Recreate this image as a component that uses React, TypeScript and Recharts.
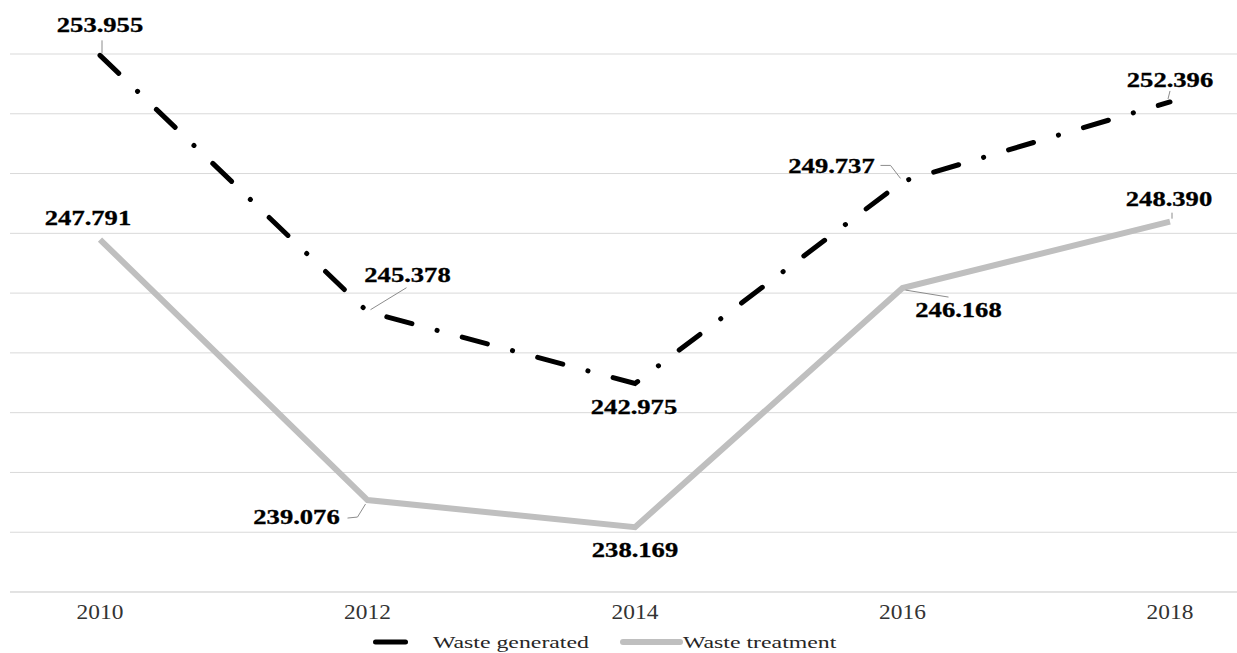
import React from 'react';
import { LineChart, Line, XAxis, YAxis, CartesianGrid, LabelList, Legend } from 'recharts';

const years = ['2010', '2012', '2014', '2016', '2018'];
const wasteGenerated = [253.955, 245.378, 242.975, 249.737, 252.396];
const wasteTreatment = [247.791, 239.076, 238.169, 246.168, 248.39];
const yTicks = [236, 238, 240, 242, 244, 246, 248, 250, 252, 254];

const data = years.map((year, i) => ({
  year,
  generated: wasteGenerated[i],
  treatment: wasteTreatment[i],
}));

// label placement relative to each point (styling)
const genLabelOffsets = [[0, -30], [40, -37], [-1, 24], [-71, -15], [0, -22]];
const treatLabelOffsets = [[-12, -21], [-71, 17], [0, 23], [56, 22], [-1, -22]];
const genLeaders: (number[][] | null)[] = [
  [[2, -15], [2, -2]],
  [[39, -24], [3, -2]],
  null,
  [[-22, -16], [-12, -16], [-2, -3]],
  [[0, -11], [-2, -3]],
];
const treatLeaders: (number[][] | null)[] = [
  null,
  [[-20, 18], [-10, 17], [-2, 4]],
  null,
  [[3, 2], [46, 9]],
  [[2, -9], [2, -3]],
];

const FONT = '"Liberation Serif", "Times New Roman", serif';

const makeLabel = (offsets: number[][], leaders: (number[][] | null)[]) => (props: any) => {
  const { x, y, value, index } = props;
  if (x == null || y == null) return null;
  const [dx, dy] = offsets[index];
  const lead = leaders[index];
  return (
    <g>
      {lead && (
        <polyline
          points={lead.map(([a, b]) => `${x + a},${y + b}`).join(' ')}
          fill="none"
          stroke="#8c8c8c"
          strokeWidth={1}
        />
      )}
      <text
        x={0}
        y={0}
        transform={`translate(${x + dx},${y + dy}) scale(1.33,1)`}
        textAnchor="middle"
        dominantBaseline="central"
        fontFamily={FONT}
        fontWeight="bold"
        fontSize={20}
        fill="#000000"
        stroke="#000000"
        strokeWidth={0.3}
      >
        {Number(value).toFixed(3)}
      </text>
    </g>
  );
};

const XTick = (props: any) => {
  const { x, payload } = props;
  return (
    <text
      x={0}
      y={0}
      transform={`translate(${x},613) scale(1.17,1)`}
      textAnchor="middle"
      dominantBaseline="central"
      fontFamily={FONT}
      fontSize={20}
      fill="#333333"
    >
      {payload.value}
    </text>
  );
};

const legendIconX = [373, 620];
const legendIconW = [35, 63];
const legendIconH = [5, 6];
const legendTextX = [433, 683];

const LegendContent = (props: any) => {
  const { payload } = props;
  return (
    <svg width={1237} height={22} style={{ display: 'block' }}>
      {(payload || []).map((entry: any, i: number) => (
        <g key={entry.value}>
          <rect
            x={legendIconX[i]}
            y={11 - legendIconH[i] / 2}
            width={legendIconW[i]}
            height={legendIconH[i]}
            rx={legendIconH[i] / 2}
            fill={entry.color}
          />
          <text
            x={0}
            y={0}
            transform={`translate(${legendTextX[i]},11) scale(1.4,1)`}
            dominantBaseline="central"
            fontFamily={FONT}
            fontSize={17}
            fill="#262626"
          >
            {entry.value}
          </text>
        </g>
      ))}
    </svg>
  );
};

export default function App() {
  return (
    <div style={{ position: 'absolute', left: 0, top: 0, width: 1237, height: 653, overflow: 'hidden', background: '#fff' }}>
      <LineChart width={1237} height={653} data={data} margin={{ top: 54, right: 0, left: 10, bottom: 0 }}>
        <CartesianGrid vertical={false} stroke="#d9d9d9" />
        <XAxis
          dataKey="year"
          padding={{ left: 90, right: 67 }}
          axisLine={{ stroke: '#d9d9d9' }}
          tickLine={false}
          tick={<XTick />}
          height={39}
          interval={0}
        />
        <YAxis hide domain={[236, 254]} ticks={yTicks} />
        <Legend
          verticalAlign="bottom"
          height={22}
          wrapperStyle={{ left: 0, width: 1237 }}
          content={<LegendContent />}
        />
        <Line
          type="linear"
          dataKey="treatment"
          name="Waste treatment"
          stroke="#bfbfbf"
          strokeWidth={6}
          dot={false}
          isAnimationActive={false}
        >
          <LabelList dataKey="treatment" content={makeLabel(treatLabelOffsets, treatLeaders)} />
        </Line>
        <Line
          type="linear"
          dataKey="generated"
          name="Waste generated"
          stroke="#000000"
          strokeWidth={5}
          strokeDasharray="26 26 0.1 26"
          strokeLinecap="round"
          dot={false}
          isAnimationActive={false}
        >
          <LabelList dataKey="generated" content={makeLabel(genLabelOffsets, genLeaders)} />
        </Line>
      </LineChart>
    </div>
  );
}
